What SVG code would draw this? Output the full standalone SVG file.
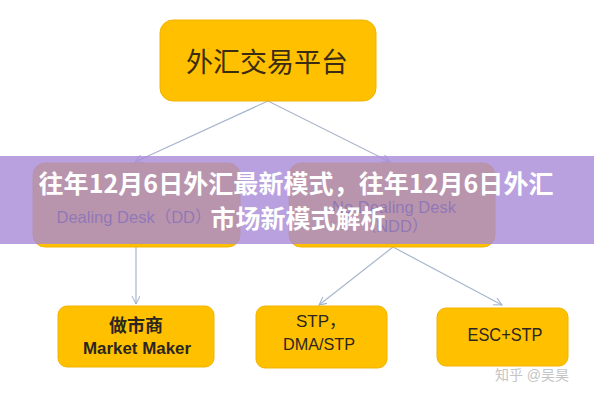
<svg xmlns="http://www.w3.org/2000/svg" width="594" height="400" viewBox="0 0 594 400">
  <defs>
    <marker id="arr" markerUnits="userSpaceOnUse" markerWidth="10" markerHeight="10" refX="8" refY="4" orient="auto">
      <path d="M0,0 L8,4 L0,8" fill="none" stroke="#9fb0cc" stroke-width="1"/>
    </marker>
  </defs>
  <style>
    .box { fill: #ffc000; stroke: #f0b400; stroke-width: 1; }
    .conn { stroke: #a9b6cf; stroke-width: 1.2; fill: none; marker-end: url(#arr); }
    .cjk { font-family: "Liberation Serif", "Noto Sans CJK SC", serif; }
    .lbl { font-family: "Liberation Sans", "Noto Sans CJK SC", sans-serif; fill: #2b2620; text-anchor: middle; }
    .mid { font-family: "Liberation Sans", "Noto Sans CJK SC", sans-serif; fill: #303030; text-anchor: middle; font-size: 16.5px; }
    .title { font-family: "Noto Sans CJK SC", sans-serif; font-weight: 700; fill: #ffffff; font-size: 25px; text-anchor: middle; }
  </style>
  <rect width="594" height="400" fill="#ffffff"/>

  <g id="connectors">
    <line class="conn" x1="268" y1="101" x2="135" y2="162"/>
    <line class="conn" x1="268" y1="101" x2="390" y2="162"/>
    <line class="conn" x1="136" y1="247" x2="136" y2="304"/>
    <line class="conn" x1="393" y1="247" x2="319" y2="305"/>
    <line class="conn" x1="393" y1="247" x2="502" y2="305"/>
  </g>

  <g id="node-platform">
    <rect class="box" x="160" y="20" width="216" height="81" rx="13"/>
    <text class="cjk" x="267" y="72" font-size="27" fill="#3a2c12" text-anchor="middle">外汇交易平台</text>
  </g>

  <g id="node-dd">
    <rect class="box" x="33" y="163" width="207" height="84" rx="12"/>
    <text class="mid" x="134" y="223">Dealing Desk（DD）</text>
  </g>

  <g id="node-ndd">
    <rect class="box" x="289" y="163" width="206" height="84" rx="12"/>
    <text class="mid" x="394" y="213">No Dealing Desk</text>
    <text class="mid" x="394" y="232">（NDD）</text>
  </g>

  <g id="node-mm">
    <rect class="box" x="58" y="306" width="156" height="61" rx="9"/>
    <text class="lbl" x="136" y="332" font-size="18" font-weight="700">做市商</text>
    <text class="lbl" x="137" y="354" font-size="17" font-weight="700" textLength="108" lengthAdjust="spacingAndGlyphs">Market Maker</text>
  </g>

  <g id="node-stp">
    <rect class="box" x="256" y="306" width="131" height="62" rx="9"/>
    <text class="lbl" x="321" y="327" font-size="17">STP，</text>
    <text class="lbl" x="319" y="350" font-size="17" textLength="72" lengthAdjust="spacingAndGlyphs">DMA/STP</text>
  </g>

  <g id="node-esc">
    <rect class="box" x="437" y="308" width="131" height="58" rx="9"/>
    <text class="lbl" x="505" y="341" font-size="18" textLength="75" lengthAdjust="spacingAndGlyphs">ESC+STP</text>
  </g>

  <text x="532" y="380" font-family="Liberation Sans, Noto Sans CJK SC, sans-serif" font-size="14" fill="#c4c4c4" text-anchor="middle">知乎 @吴昊</text>

  <g id="banner">
    <rect x="0" y="156" width="594" height="88" fill="rgb(168,138,216)" opacity="0.8"/>
    <text class="title" x="296" y="193" textLength="515" lengthAdjust="spacing">往年12月6日外汇最新模式，往年12月6日外汇</text>
    <text class="title" x="298" y="228">市场新模式解析</text>
  </g>
</svg>
